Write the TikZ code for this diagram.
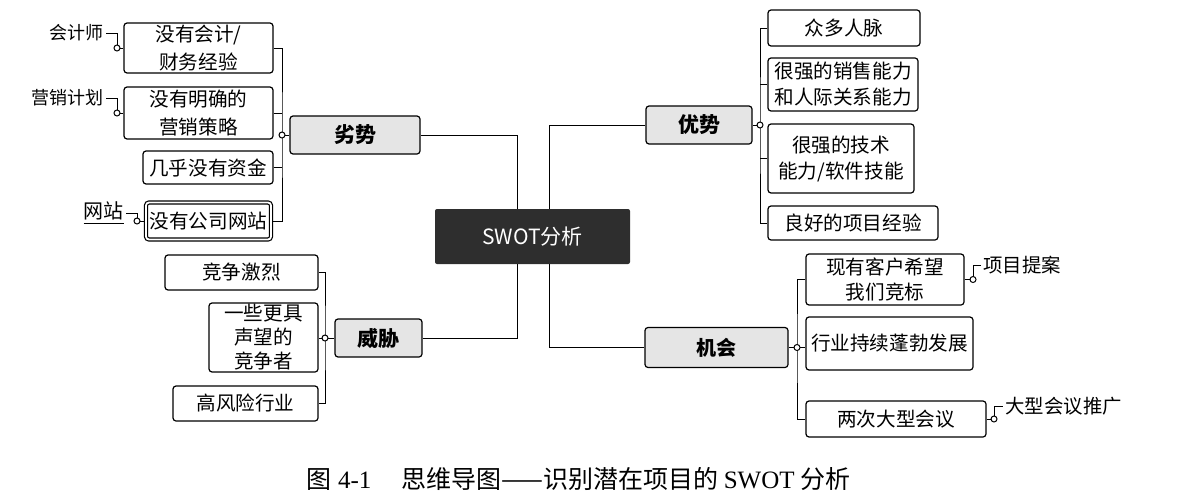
\documentclass[tikz,border=0pt]{standalone}
\usepackage{fontspec}
\setmainfont{Noto Sans CJK SC}
\newfontfamily\capfont{Liberation Serif}
\usetikzlibrary{positioning, backgrounds}

\begin{document}
\begin{tikzpicture}[
    x=0.5pt, y=-0.5pt,
    root/.style={
        fill=black!82,
        text=white,
        minimum width=97.5pt,
        minimum height=27.5pt,
        rounded corners=1pt,
        font=\fontsize{10.5}{12}\selectfont
    },
    topic/.style={
        draw,
        fill=black!10,
        line width=0.6pt,
        rounded corners=1.5pt,
        inner sep=0pt,
        font=\fontsize{10.5}{12}\selectfont\bfseries
    },
    leaf/.style={
        draw,
        fill=white,
        line width=0.6pt,
        rounded corners=1.5pt,
        inner sep=0pt,
        align=center,
        font=\fontsize{9.8}{14}\selectfont
    },
    tag/.style={inner sep=1pt, font=\fontsize{9}{11}\selectfont},
    rtag/.style={inner sep=1pt, anchor=west, font=\fontsize{9.7}{11}\selectfont},
    joint/.style={circle, draw, fill=white, inner sep=0pt, minimum size=3pt, line width=0.5pt},
    link/.style={line width=0.5pt}
]
\useasboundingbox (0,0) rectangle (1184,503);

% Center
\node[root] (swot) at (532.5,236.5) {SWOT分析};

% Weaknesses
\node[topic, minimum width=65pt, minimum height=19pt] (weak) at (355,135) {劣势};
\node[leaf, minimum width=74.5pt, minimum height=25pt] (w1) at (198.5,48) {没有会计/\\财务经验};
\node[leaf, minimum width=74.5pt, minimum height=26pt] (w2) at (198.5,113) {没有明确的\\营销策略};
\node[leaf, minimum width=65pt, minimum height=16.5pt] (w3) at (208,167.5) {几乎没有资金};
\node[leaf, double, double distance=0.9pt, minimum width=62.5pt, minimum height=18.5pt] (w4) at (208.5,221) {没有公司网站};
\node[joint] (kw) at (282,135) {};
\node[tag, anchor=east] (acct) at (106,33) {会计师};
\node[tag, anchor=east] (plan) at (106,98) {营销计划};
\node[tag, anchor=east, font=\fontsize{10}{12}\selectfont] (site) at (126,213) {\underline{网站}};
\node[joint] (k1) at (117,48) {};
\node[joint] (k2) at (117,113) {};
\node[joint] (k3) at (137,221) {};

% Strengths
\node[topic, minimum width=53pt, minimum height=19pt] (strong) at (699,125) {优势};
\node[leaf, minimum width=76pt, minimum height=18pt] (s1) at (844,28) {众多人脉};
\node[leaf, minimum width=75pt, minimum height=26.5pt, font=\fontsize{9.8}{13}\selectfont] (s2) at (843,84.5) {很强的销售能力\\和人际关系能力};
\node[leaf, minimum width=73pt, minimum height=34.5pt, font=\fontsize{9.8}{13}\selectfont] (s3) at (841,158.5) {很强的技术\\能力/软件技能};
\node[leaf, minimum width=85pt, minimum height=17pt] (s4) at (853,223) {良好的项目经验};
\node[joint] (ks) at (760,125) {};

% Threats
\node[topic, minimum width=43.5pt, minimum height=19pt] (threat) at (378.5,338) {威胁};
\node[leaf, minimum width=76.5pt, minimum height=17.5pt] (t1) at (241.5,272.5) {竞争激烈};
\node[leaf, minimum width=54.5pt, minimum height=34.5pt, font=\fontsize{9.8}{12}\selectfont] (t2) at (263.5,337.5) {一些更具\\声望的\\竞争者};
\node[leaf, minimum width=72.5pt, minimum height=17.5pt] (t3) at (245.5,403.5) {高风险行业};
\node[joint] (kt) at (325,338) {};

% Opportunities
\node[topic, minimum width=71.5pt, minimum height=20pt, font=\fontsize{10}{12}\selectfont\bfseries] (chance) at (716.5,347.5) {机会};
\node[leaf, minimum width=79pt, minimum height=25.5pt, font=\fontsize{9.8}{12.5}\selectfont] (o1) at (885,279.5) {现有客户希望\\我们竞标};
\node[leaf, minimum width=83.5pt, minimum height=26.5pt] (o2) at (889.5,343.5) {行业持续蓬勃发展};
\node[leaf, minimum width=90pt, minimum height=18pt] (o3) at (896,419) {两次大型会议};
\node[joint] (ko) at (797,347.5) {};
\node[rtag] (bid) at (981,265) {项目提案};
\node[rtag] (expo) at (1003,406) {大型会议推广};
\node[joint] (k5) at (973,279.5) {};
\node[joint] (k6) at (994,419) {};

% Connectors
\begin{scope}[on background layer]
    \draw[link] ([xshift=-7.75pt]swot.north) |- (weak.east);
    \draw[link] ([xshift=8.25pt]swot.north) |- (strong.west);
    \draw[link] ([xshift=-7.75pt]swot.south) |- (threat.east);
    \draw[link] ([xshift=8.25pt]swot.south) |- (chance.west);

    \draw[link] (w1.east) -| (kw.center) |- (w4.east);
    \draw[link] (w2.east) -- (w2.east -| kw.center);
    \draw[link] (w3.east) -- (w3.east -| kw.center);
    \draw[link] (kw.center) -- (weak.west);

    \draw[link] (s1.west) -| (ks.center) |- (s4.west);
    \draw[link] (s2.west) -- (s2.west -| ks.center);
    \draw[link] (s3.west) -- (s3.west -| ks.center);
    \draw[link] (ks.center) -- (strong.east);

    \draw[link] (t1.east) -| (kt.center) |- (t3.east);
    \draw[link] (kt.center) -- (kt.center -| t2.east);
    \draw[link] (kt.center) -- (threat.west);

    \draw[link] (o1.west) -| (ko.center) |- (o3.west);
    \draw[link] (ko.center) -- (ko.center -| o2.west);
    \draw[link] (ko.center) -- (chance.east);

    \draw[link] (acct.east) -| (k1.center) -- (w1.west);
    \draw[link] (plan.east) -| (k2.center) -- (w2.west);
    \draw[link] (site.east) -| (k3.center) -- (w4.west);
    \draw[link] (o1.east) -- (k5.center) |- (bid.west);
    \draw[link] (o3.east) -- (k6.center) |- (expo.west);
\end{scope}

% Caption
\node[font=\fontsize{12.5}{14}\selectfont] (caption) at (578.5,479) {图\hspace{0.25em}{\capfont 4-1}\hspace{1.2em}思维导图——识别潜在项目的 {\capfont SWOT} 分析};
\end{tikzpicture}
\end{document}
